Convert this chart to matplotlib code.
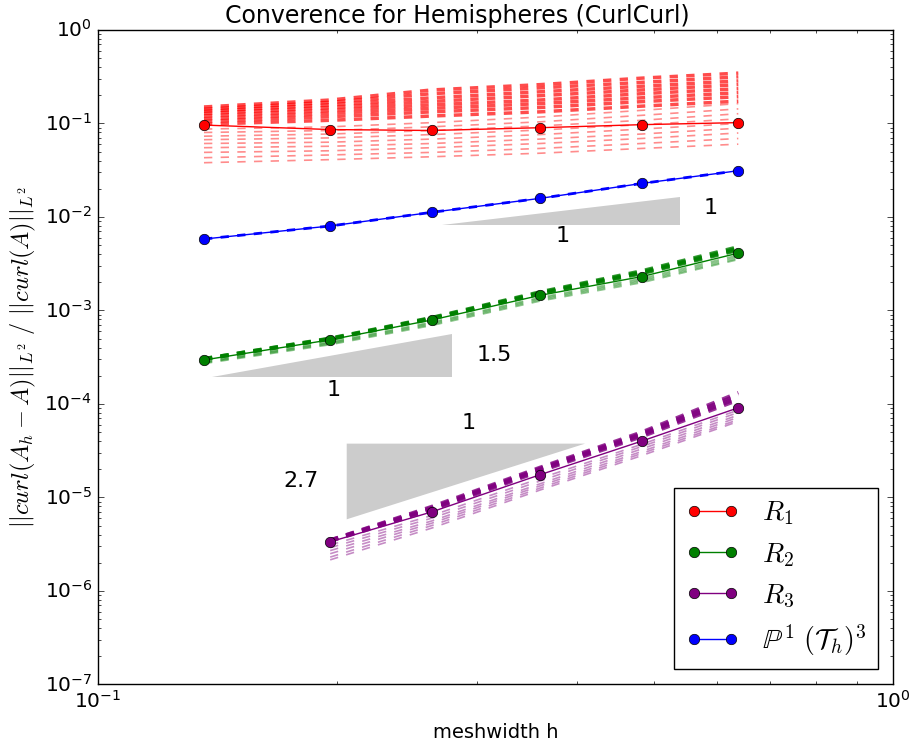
import matplotlib
matplotlib.use("Agg")
import matplotlib.pyplot as plt

plt.style.use("classic")
plt.rcParams["font.family"] = ["DejaVu Sans"]
plt.rcParams["mathtext.fontset"] = "cm"

# meshwidths
h = [0.136, 0.196, 0.263, 0.360, 0.483, 0.639]

# main convergence curves
r1 = [0.096, 0.086, 0.084, 0.090, 0.097, 0.102]
r2 = [2.95e-4, 4.85e-4, 7.9e-4, 1.45e-3, 2.3e-3, 4.1e-3]
r3 = [3.35e-6, 7.0e-6, 1.75e-5, 4.0e-5, 9.1e-5]
p1 = [0.0058, 0.0080, 0.0112, 0.0158, 0.0228, 0.0312]

# dashed variants (thick = upper group, thin = lower group)
r1_thick = [
    [0.150, 0.178, 0.228, 0.260, 0.305, 0.345],
    [0.142, 0.168, 0.208, 0.240, 0.275, 0.315],
    [0.135, 0.158, 0.188, 0.218, 0.250, 0.285],
    [0.128, 0.148, 0.172, 0.198, 0.228, 0.260],
    [0.120, 0.138, 0.158, 0.178, 0.208, 0.235],
    [0.112, 0.128, 0.145, 0.163, 0.188, 0.213],
    [0.105, 0.118, 0.133, 0.148, 0.171, 0.193],
    [0.098, 0.108, 0.120, 0.133, 0.153, 0.173],
]
r1_thin = [
    [0.087, 0.092, 0.102, 0.117, 0.138, 0.163],
    [0.080, 0.084, 0.092, 0.104, 0.122, 0.143],
    [0.073, 0.077, 0.084, 0.094, 0.108, 0.127],
    [0.067, 0.070, 0.076, 0.085, 0.097, 0.112],
    [0.061, 0.063, 0.068, 0.076, 0.087, 0.100],
    [0.055, 0.057, 0.061, 0.068, 0.077, 0.089],
    [0.049, 0.051, 0.055, 0.061, 0.069, 0.079],
    [0.043, 0.046, 0.049, 0.054, 0.061, 0.069],
    [0.038, 0.041, 0.044, 0.048, 0.054, 0.060],
]
r2_thick = [
    [3.05e-4, 5.05e-4, 8.4e-4, 1.58e-3, 2.65e-3, 4.8e-3],
    [3.05e-4, 5.0e-4, 8.3e-4, 1.55e-3, 2.58e-3, 4.65e-3],
    [3.0e-4, 4.95e-4, 8.2e-4, 1.52e-3, 2.52e-3, 4.5e-3],
    [3.0e-4, 4.9e-4, 8.1e-4, 1.5e-3, 2.47e-3, 4.4e-3],
]
r2_thin = [
    [2.85e-4, 4.6e-4, 7.5e-4, 1.38e-3, 2.2e-3, 3.9e-3],
    [2.8e-4, 4.5e-4, 7.3e-4, 1.34e-3, 2.12e-3, 3.75e-3],
    [2.75e-4, 4.4e-4, 7.1e-4, 1.3e-3, 2.05e-3, 3.6e-3],
    [2.7e-4, 4.3e-4, 6.9e-4, 1.26e-3, 1.98e-3, 3.5e-3],
]
r3_thick = [
    [3.5e-6, 8.0e-6, 2.1e-5, 5.0e-5, 1.32e-4],
    [3.5e-6, 7.8e-6, 2.05e-5, 4.85e-5, 1.26e-4],
    [3.45e-6, 7.6e-6, 2.0e-5, 4.7e-5, 1.2e-4],
    [3.45e-6, 7.5e-6, 1.95e-5, 4.6e-5, 1.15e-4],
    [3.4e-6, 7.3e-6, 1.9e-5, 4.45e-5, 1.1e-4],
]
r3_thin = [
    [3.1e-6, 6.4e-6, 1.6e-5, 3.7e-5, 8.6e-5],
    [2.9e-6, 6.0e-6, 1.5e-5, 3.5e-5, 8.1e-5],
    [2.7e-6, 5.6e-6, 1.4e-5, 3.3e-5, 7.6e-5],
    [2.5e-6, 5.3e-6, 1.33e-5, 3.1e-5, 7.2e-5],
    [2.3e-6, 5.0e-6, 1.26e-5, 2.95e-5, 6.8e-5],
    [2.15e-6, 4.7e-6, 1.2e-5, 2.8e-5, 6.5e-5],
]

# slope triangles: x0, x1, y at the horizontal edge, slope
tri_p1 = (0.271, 0.539, 0.0082, 1.0)
tri_r2 = (0.139, 0.279, 1.95e-4, 1.5)
tri_r3 = (0.2056, 0.41, 3.76e-5, 2.7)

fig = plt.figure(figsize=(9.14, 7.48), dpi=100)
ax = fig.add_axes([0.107, 0.085, 0.87, 0.875])

for vals in r1_thick:
    ax.loglog(h, vals, "--", color="red", lw=2.5, alpha=0.7)
for vals in r1_thin:
    ax.loglog(h, vals, "--", color="red", lw=1.2, alpha=0.45)
for vals in r2_thick:
    ax.loglog(h, vals, "--", color="green", lw=2.5, alpha=0.8)
for vals in r2_thin:
    ax.loglog(h, vals, "--", color="green", lw=1.2, alpha=0.45)
for vals in r3_thick:
    ax.loglog(h[1:], vals, "--", color="purple", lw=2.5, alpha=0.8)
for vals in r3_thin:
    ax.loglog(h[1:], vals, "--", color="purple", lw=1.2, alpha=0.45)
ax.loglog(h, p1, "--", color="blue", lw=2.0)

ax.loglog(h, r1, "o-", color="red", mec="k", ms=7.5, lw=1, label=r"$R_1$")
ax.loglog(h, r2, "o-", color="green", mec="k", ms=7.5, lw=1, label=r"$R_2$")
ax.loglog(h[1:], r3, "o-", color="purple", mec="k", ms=7.5, lw=1, label=r"$R_3$")
ax.loglog(h, p1, "o-", color="blue", mec="k", ms=7.5, lw=1,
          label=r"$\mathbb{P}^1\ (\mathcal{T}_h)^3$")

# slope triangle for P1 (hypotenuse goes up to the right)
x0, x1, y0, s = tri_p1
ax.fill([x0, x1, x1], [y0, y0, y0 * (x1 / x0) ** s], color="0.8", lw=0)
ax.text(0.384, 0.0062, "1", fontsize=16, ha="center", va="center")
ax.text(0.590, 0.0124, "1", fontsize=16, ha="center", va="center")

x0, x1, y0, s = tri_r2
ax.fill([x0, x1, x1], [y0, y0, y0 * (x1 / x0) ** s], color="0.8", lw=0)
ax.text(0.198, 1.42e-4, "1", fontsize=16, ha="center", va="center")
ax.text(0.315, 3.3e-4, "1.5", fontsize=16, ha="center", va="center")

# slope triangle for R3 (vertical edge on the left)
x0, x1, ytop, s = tri_r3
ax.fill([x0, x1, x0], [ytop, ytop, ytop / (x1 / x0) ** s], color="0.8", lw=0)
ax.text(0.2924, 6.3e-5, "1", fontsize=16, ha="center", va="center")
ax.text(0.180, 1.49e-5, "2.7", fontsize=16, ha="center", va="center")

ax.set_xlim(0.1, 1.0)
ax.set_ylim(1e-7, 1.0)
ax.tick_params(labelsize=14.5)
ax.set_title("Converence for Hemispheres (CurlCurl)", fontsize=17, x=0.452)
ax.set_xlabel("meshwidth h", fontsize=14, labelpad=8)
ax.set_ylabel(r"$||curl(A_h - A)||_{L^2}\ /\ ||curl(A)||_{L^2}$", fontsize=17.5)

leg = ax.legend(loc="lower right", fontsize=20, numpoints=2, labelspacing=0.45,
                borderaxespad=0.55, handlelength=1.95, handletextpad=0.8,
                borderpad=0.4)
leg.get_frame().set_linewidth(1.0)

fig.savefig("out.png", dpi=100, facecolor="white")
